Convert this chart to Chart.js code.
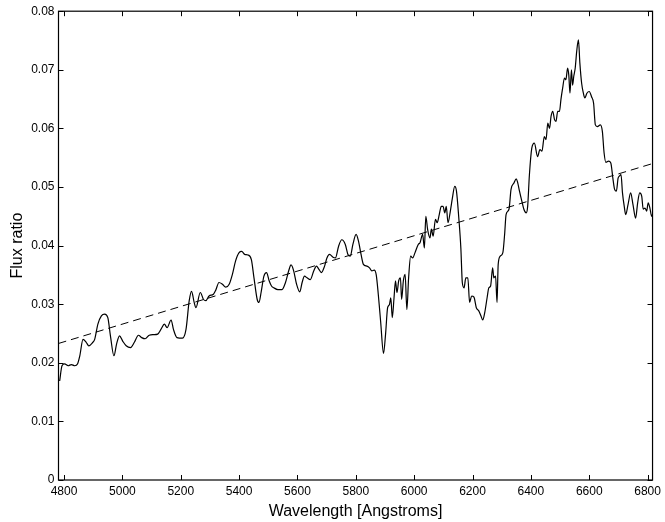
<!DOCTYPE html>
<html>
<head>
<meta charset="utf-8">
<script src="https://cdn.jsdelivr.net/npm/chart.js@4.4.1/dist/chart.umd.min.js"></script>
<style>
  html, body { margin: 0; padding: 0; background: #fff; }
  #wrap { width: 665px; height: 522px; }
</style>
</head>
<body>
<div id="wrap"><canvas id="chart" width="665" height="522"></canvas></div>
<script>
// spectrum (wavelength in Angstroms, flux ratio)
const wavelength = [
  4785, 4793, 4802, 4814, 4825, 4837, 4846, 4854, 4865, 4876, 4885, 4897, 4905, 4916, 4928, 4939,
  4950, 4959, 4971, 4980, 4990, 5001, 5013, 5028, 5041, 5055, 5066, 5078, 5092, 5107, 5121, 5132,
  5144, 5153, 5167, 5175, 5187, 5206, 5218, 5229, 5237, 5246, 5252, 5267, 5278, 5286, 5297, 5312,
  5320, 5331, 5343, 5354, 5366, 5377, 5388, 5400, 5409, 5419, 5430, 5442, 5451, 5462, 5468, 5476,
  5485, 5494, 5503, 5511, 5519, 5533, 5547, 5559, 5570, 5578, 5587, 5597, 5608, 5616, 5624, 5633,
  5644, 5656, 5665, 5673, 5682, 5693, 5701, 5710, 5722, 5730, 5741, 5752, 5764, 5773, 5781, 5790,
  5801, 5809, 5818, 5826, 5838, 5847, 5855, 5863, 5870, 5877, 5885, 5895, 5902, 5909, 5915, 5920,
  5925, 5931, 5936, 5941, 5947, 5953, 5957, 5963, 5969, 5975, 5981, 5988, 5995, 6003, 6014, 6020,
  6029, 6035, 6040, 6046, 6054, 6059, 6065, 6073, 6079, 6086, 6093, 6099, 6105, 6110, 6116, 6124,
  6131, 6139, 6145, 6153, 6160, 6165, 6171, 6177, 6184, 6190, 6197, 6205, 6213, 6221, 6229, 6235,
  6242, 6250, 6256, 6262, 6269, 6273, 6279, 6284, 6288, 6295, 6304, 6310, 6315, 6325, 6332, 6342,
  6350, 6355, 6361, 6369, 6376, 6384, 6389, 6395, 6403, 6412, 6423, 6431, 6438, 6446, 6452, 6458,
  6464, 6469, 6475, 6481, 6486, 6492, 6498, 6503, 6509, 6515, 6520, 6526, 6530, 6534, 6539, 6543,
  6547, 6552, 6557, 6563, 6568, 6574, 6580, 6585, 6592, 6600, 6608, 6615, 6621, 6628, 6638, 6645,
  6651, 6657, 6666, 6674, 6681, 6687, 6693, 6699, 6704, 6709, 6714, 6720, 6725, 6733, 6742, 6750,
  6759, 6766, 6773, 6780, 6785, 6791, 6797, 6802, 6808, 6814, 6817
];
const fluxRatio = [
  0.0169, 0.0195, 0.0198, 0.0195, 0.0197, 0.0195, 0.0198, 0.0212, 0.0240, 0.0235, 0.0229, 0.0234, 0.0240, 0.0266, 0.0280, 0.0283,
  0.0277, 0.0246, 0.0212, 0.0232, 0.0246, 0.0237, 0.0229, 0.0226, 0.0235, 0.0247, 0.0243, 0.0241, 0.0247, 0.0248, 0.0249, 0.0257,
  0.0266, 0.0260, 0.0273, 0.0257, 0.0243, 0.0242, 0.0257, 0.0306, 0.0322, 0.0303, 0.0294, 0.0320, 0.0308, 0.0306, 0.0314, 0.0317,
  0.0324, 0.0337, 0.0334, 0.0329, 0.0334, 0.0351, 0.0374, 0.0388, 0.0390, 0.0385, 0.0384, 0.0376, 0.0345, 0.0308, 0.0303, 0.0322,
  0.0348, 0.0354, 0.0340, 0.0331, 0.0328, 0.0325, 0.0325, 0.0337, 0.0357, 0.0367, 0.0357, 0.0334, 0.0321, 0.0337, 0.0348, 0.0345,
  0.0342, 0.0357, 0.0365, 0.0360, 0.0354, 0.0365, 0.0379, 0.0385, 0.0380, 0.0379, 0.0399, 0.0410, 0.0402, 0.0385, 0.0382, 0.0402,
  0.0419, 0.0408, 0.0385, 0.0368, 0.0365, 0.0362, 0.0357, 0.0358, 0.0350, 0.0317, 0.0271, 0.0216, 0.0249, 0.0294, 0.0299, 0.0311,
  0.0277, 0.0311, 0.0340, 0.0320, 0.0340, 0.0345, 0.0308, 0.0340, 0.0351, 0.0291, 0.0345, 0.0382, 0.0379, 0.0388, 0.0402, 0.0405,
  0.0419, 0.0396, 0.0450, 0.0428, 0.0413, 0.0428, 0.0416, 0.0445, 0.0439, 0.0453, 0.0467, 0.0467, 0.0456, 0.0467, 0.0439, 0.0459,
  0.0481, 0.0501, 0.0493, 0.0447, 0.0396, 0.0337, 0.0328, 0.0345, 0.0345, 0.0303, 0.0314, 0.0312, 0.0294, 0.0289, 0.0280, 0.0273,
  0.0286, 0.0311, 0.0328, 0.0331, 0.0362, 0.0345, 0.0348, 0.0303, 0.0368, 0.0382, 0.0388, 0.0419, 0.0453, 0.0462, 0.0496, 0.0507,
  0.0514, 0.0507, 0.0493, 0.0476, 0.0462, 0.0456, 0.0467, 0.0521, 0.0566, 0.0575, 0.0552, 0.0564, 0.0561, 0.0586, 0.0581, 0.0609,
  0.0600, 0.0620, 0.0629, 0.0615, 0.0612, 0.0629, 0.0629, 0.0649, 0.0669, 0.0686, 0.0683, 0.0703, 0.0691, 0.0660, 0.0700, 0.0674,
  0.0689, 0.0703, 0.0731, 0.0751, 0.0711, 0.0677, 0.0660, 0.0652, 0.0660, 0.0663, 0.0654, 0.0643, 0.0606, 0.0603, 0.0606, 0.0595,
  0.0558, 0.0542, 0.0544, 0.0541, 0.0515, 0.0496, 0.0493, 0.0515, 0.0519, 0.0521, 0.0490, 0.0467, 0.0453, 0.0470, 0.0490, 0.0470,
  0.0447, 0.0473, 0.0490, 0.0484, 0.0462, 0.0464, 0.0459, 0.0473, 0.0464, 0.0450, 0.0453
];

// linear fit (dashed)
const fitWavelength = [4781, 6817];
const fitFlux = [0.0233, 0.0540];

const xMin = 4781, xMax = 6817;
const yMin = 0, yMax = 0.08;

const spectrumPoints = wavelength.map((w, i) => ({ x: w, y: fluxRatio[i] }));
const fitPoints = fitWavelength.map((w, i) => ({ x: w, y: fitFlux[i] }));

// matlab style box with inward ticks on all four sides
const boxTicks = {
  id: 'boxTicks',
  afterDraw(chart) {
    const ctx = chart.ctx;
    const area = chart.chartArea;
    const xs = chart.scales.x, ys = chart.scales.y;
    const len = 5;
    ctx.save();
    ctx.strokeStyle = '#000';
    ctx.lineWidth = 1;
    ctx.beginPath();
    xs.ticks.forEach(t => {
      const px = Math.round(xs.getPixelForValue(t.value)) + 0.5;
      ctx.moveTo(px, area.bottom); ctx.lineTo(px, area.bottom - len);
      ctx.moveTo(px, area.top); ctx.lineTo(px, area.top + len);
    });
    ys.ticks.forEach(t => {
      const py = Math.round(ys.getPixelForValue(t.value)) + 0.5;
      ctx.moveTo(area.left, py); ctx.lineTo(area.left + len, py);
      ctx.moveTo(area.right, py); ctx.lineTo(area.right - len, py);
    });
    ctx.stroke();
    ctx.lineWidth = 1.2;
    ctx.strokeRect(area.left, area.top, area.right - area.left, area.bottom - area.top);
    ctx.restore();
  }
};

new Chart(document.getElementById('chart'), {
  type: 'scatter',
  data: {
    datasets: [
      {
        label: 'Flux ratio',
        data: spectrumPoints,
        showLine: true,
        borderColor: '#000',
        borderWidth: 1.2,
        pointRadius: 0,
        cubicInterpolationMode: 'monotone',
        fill: false
      },
      {
        label: 'Fit',
        data: fitPoints,
        showLine: true,
        borderColor: '#000',
        borderWidth: 1,
        borderDash: [8, 5],
        pointRadius: 0,
        fill: false
      }
    ]
  },
  options: {
    responsive: false,
    animation: false,
    layout: { padding: { top: 9, right: 9, left: 0, bottom: 0 } },
    plugins: { legend: { display: false }, tooltip: { enabled: false } },
    scales: {
      x: {
        type: 'linear',
        min: xMin,
        max: xMax,
        afterBuildTicks: scale => {
          const t = [];
          for (let v = 4800; v <= 6800; v += 200) t.push({ value: v });
          scale.ticks = t;
        },
        afterFit: scale => { scale.height = 42; },
        grid: { display: false, drawTicks: false },
        border: { display: false },
        ticks: {
          padding: 4,
          color: '#000',
          font: { family: 'Liberation Sans, Arial, sans-serif', size: 12 },
          maxRotation: 0,
          callback: v => String(v)
        },
        title: {
          display: true,
          text: 'Wavelength [Angstroms]',
          color: '#000',
          font: { family: 'Liberation Sans, Arial, sans-serif', size: 16 },
          padding: { top: 0, bottom: 1 }
        }
      },
      y: {
        type: 'linear',
        min: yMin,
        max: yMax,
        afterBuildTicks: scale => {
          const t = [];
          for (let i = 0; i <= 8; i++) t.push({ value: i / 100 });
          scale.ticks = t;
        },
        afterFit: scale => { scale.width = 58.5; },
        grid: { display: false, drawTicks: false },
        border: { display: false },
        ticks: {
          padding: 4,
          color: '#000',
          font: { family: 'Liberation Sans, Arial, sans-serif', size: 12 },
          callback: v => (v === 0 ? '0' : String(Number(v.toFixed(2))))
        },
        title: {
          display: true,
          text: 'Flux ratio',
          color: '#000',
          font: { family: 'Liberation Sans, Arial, sans-serif', size: 16 },
          padding: { top: 8, bottom: 0 }
        }
      }
    }
  },
  plugins: [boxTicks]
});
</script>
</body>
</html>
